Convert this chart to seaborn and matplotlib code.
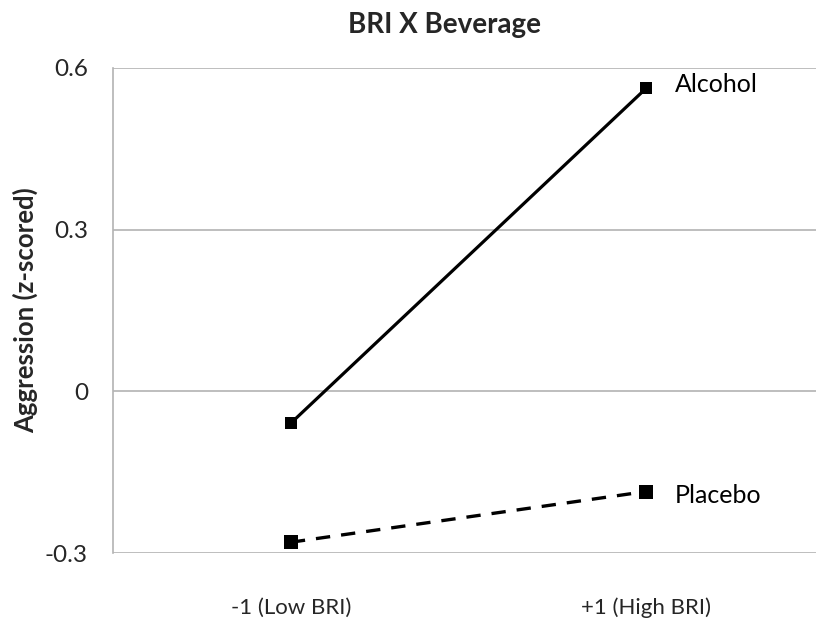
import matplotlib
matplotlib.use("Agg")
import matplotlib.pyplot as plt
import seaborn as sns
import pandas as pd

categories = ["-1 (Low BRI)", "+1 (High BRI)"]
alcohol = [-0.059, 0.562]
placebo = [-0.28, -0.186]
series_names = ["Alcohol", "Placebo"]
y_ticks = [-0.3, 0, 0.3, 0.6]
y_tick_labels = ["-0.3", "0", "0.3", "0.6"]

rows = []
for name, vals in zip(series_names, [alcohol, placebo]):
    for i, (c, v) in enumerate(zip(categories, vals)):
        rows.append({"pos": i, "cat": c, "value": v, "series": name})
df = pd.DataFrame(rows)

sns.set_style("white")
plt.rcParams["font.family"] = ["Lato", "DejaVu Sans"]

fig = plt.figure(figsize=(8.16, 6.25), dpi=100)
ax = fig.add_axes([113/816, 1-553/625, 1-113/816, (553-68)/625])

styles = {
    "Alcohol": dict(linestyle="-", markersize=8, linewidth=2.3),
    "Placebo": dict(linestyle=(0, (4.3, 3.3)), markersize=9.6, linewidth=2.4),
}
for name in series_names:
    sub = df[df["series"] == name]
    sns.lineplot(data=sub, x="pos", y="value", color="black", marker="s",
                 markeredgewidth=0, dash_capstyle="butt", legend=False, ax=ax,
                 **styles[name])

for name, vals, dy in zip(series_names, [alcohol, placebo], [3, -3]):
    ax.annotate(name, xy=(1, vals[1]), xytext=(21, dy), textcoords="offset points",
                fontsize=18, va="center", ha="left", color="black")

ax.set_xlim(-0.501, 1.479)
ax.set_ylim(-0.3, 0.6)
ax.set_xticks([0, 1])
ax.set_xticklabels(categories, fontsize=16)
ax.set_yticks(y_ticks)
ax.set_yticklabels(y_tick_labels, fontsize=17.5)
ax.tick_params(axis="x", pad=32, length=0)
ax.tick_params(axis="y", pad=18, length=0)
ax.yaxis.grid(True, color="#b3b3b3", linewidth=1.2)
ax.xaxis.grid(False)
for s in ["top", "right", "bottom"]:
    ax.spines[s].set_visible(False)
ax.spines["left"].set_color("#b3b3b3")
ax.spines["left"].set_linewidth(1.2)
ax.set_xlabel("")
ax.set_ylabel("Aggression (z-scored)", fontsize=18.5, fontweight="bold")
ax.yaxis.set_label_coords(-(113 - 38) / 703, 0.5)
fig.text(445/816, 1-25/625, "BRI X Beverage", fontsize=20, fontweight="bold",
         ha="center", va="center")

fig.savefig("out.png", dpi=100)
